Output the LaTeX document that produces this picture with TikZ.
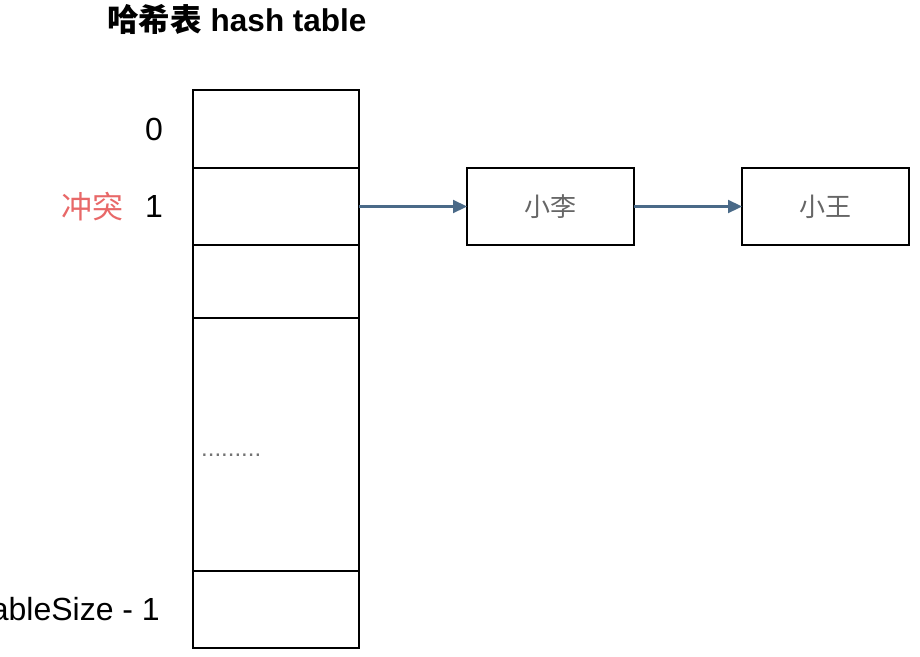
\documentclass[tikz,border=0pt]{standalone}
\usepackage{fontspec}
\setmainfont{Liberation Sans}
\newfontfamily\cjk{Noto Sans CJK SC}
\usetikzlibrary{arrows.meta, positioning}
\definecolor{linkblue}{HTML}{4A6A88}
\definecolor{clashred}{HTML}{E86868}
\tikzstyle{cell} = [rectangle, draw, line width=2.6pt, minimum width=166pt, outer sep=0pt, inner sep=0pt]
\tikzstyle{entry} = [rectangle, draw, line width=2.6pt, minimum width=167pt, minimum height=77pt, outer sep=0pt, text=black!60, font=\cjk\fontsize{26}{30}\selectfont]
\tikzstyle{index} = [inner sep=0pt, font=\fontsize{32}{36}\selectfont]
\tikzstyle{arrow} = [line width=2.2pt, linkblue, -{Triangle[length=14pt,width=13pt]}]

\begin{document}
\begin{tikzpicture}[x=1pt, y=-1pt]
        \useasboundingbox (0,0) rectangle (920,656);
        \node[font=\bfseries\fontsize{31.5}{36}\selectfont] (title) at (237,19) {{\cjk 哈希表} hash table};
        \node[cell, minimum height=78pt] (cell0) at (276,129) {};
        \node[cell, minimum height=77pt, below=0pt of cell0] (cell1) {};
        \node[cell, minimum height=73pt, below=0pt of cell1] (cell2) {};
        \node[cell, minimum height=253pt, below=0pt of cell2] (cell3) {};
        \node[cell, minimum height=77pt, below=0pt of cell3] (cell4) {};
        \node[anchor=base west, inner sep=0pt, text=black!55, font=\fontsize{24}{28}\selectfont] (dots) at (201,456) {.........};
        \node[index, left=30pt of cell0] (idx0) {0};
        \node[index, left=30pt of cell1] (idx1) {1};
        \node[index, left=21pt of idx1, text=clashred, font=\cjk\fontsize{31}{35}\selectfont] (clash) {冲突};
        \node[index, left=33pt of cell4] (idxlast) {TableSize - 1};
        \node[entry, right=108pt of cell1] (li) {小李};
        \node[entry, right=108pt of li] (wang) {小王};
        \draw[arrow] (cell1.east) -- (li);
        \draw[arrow] (li) -- (wang);
    \end{tikzpicture}
\end{document}
